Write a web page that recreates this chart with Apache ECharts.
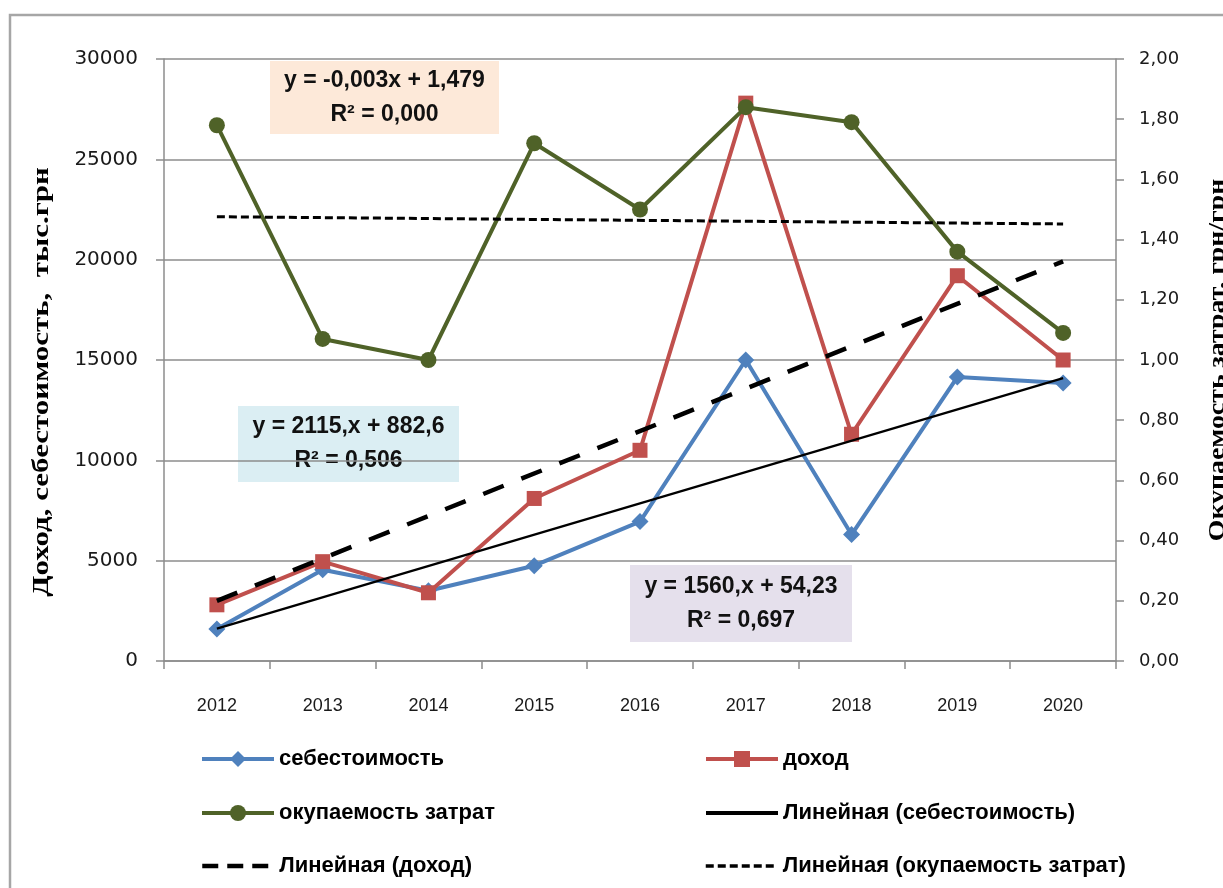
<!DOCTYPE html>
<html>
<head>
<meta charset="utf-8">
<script src="https://cdn.jsdelivr.net/npm/echarts@6/dist/echarts.min.js"></script>
<style>
html,body{margin:0;padding:0;background:#fff;}
#chart{width:1223px;height:888px;}
</style>
</head>
<body>
<div id="chart"></div>
<script>
// ---- data ----
const years = ['2012','2013','2014','2015','2016','2017','2018','2019','2020'];
const cost = [1600, 4550, 3500, 4750, 6950, 15000, 6300, 14150, 13850];      // себестоимость
const income = [2800, 4950, 3400, 8100, 10500, 27800, 11300, 19200, 15000];  // доход
const payback = [1.78, 1.07, 1.00, 1.72, 1.50, 1.84, 1.79, 1.36, 1.09];      // окупаемость затрат
const leftTicks = [0, 5000, 10000, 15000, 20000, 25000, 30000];
const rightTicks = ['0,00','0,20','0,40','0,60','0,80','1,00','1,20','1,40','1,60','1,80','2,00'];
// trendline coefficients as printed in the chart (x = 1..9)
const trendCost = {slope: 1560, intercept: 54.23, text: ['y = 1560,x + 54,23', 'R² = 0,697']};
const trendIncome = {slope: 2115, intercept: 882.6, text: ['y = 2115,x + 882,6', 'R² = 0,506']};
const trendPayback = {slope: -0.003, intercept: 1.479, text: ['y = -0,003x + 1,479', 'R² = 0,000']};
const names = ['себестоимость','доход','окупаемость затрат','Линейная (себестоимость)','Линейная (доход)','Линейная (окупаемость затрат)'];
const leftTitle = 'Доход, себестоимость,  тыс.грн';
const rightTitle = 'Окупаемость затрат, грн/грн';

function trendEnds(t){
  const n = years.length;
  return [[0, t.slope*1 + t.intercept], [n-1, t.slope*n + t.intercept]];
}

const chart = echarts.init(document.getElementById('chart'), null, {renderer:'canvas'});
const axisFont = "'DejaVu Sans', sans-serif";
const sansFont = "'Liberation Sans', Arial, sans-serif";
const txt = '#1a1a1a';
const gridGray = '#8c8c8c';

function noteBox(x, y, w, h, fill, lines){
  const f = "bold 23px 'Liberation Sans', Arial, sans-serif";
  return {
    type:'group', x:x, y:y, z:50,
    children:[
      {type:'rect', shape:{x:0,y:0,width:w,height:h}, style:{fill:fill}},
      {type:'text', x:w/2, y:h/2 - 17, style:{text:lines[0], fill:'#111', font:f, align:'center', verticalAlign:'middle'}},
      {type:'text', x:w/2, y:h/2 + 17, style:{text:lines[1], fill:'#111', font:f, align:'center', verticalAlign:'middle'}}
    ]
  };
}

const legendText = {color:'#000', fontSize:22, fontWeight:'bold', fontFamily:sansFont, lineHeight:20};
function oneLegend(name, left, top, lineStyle, hideSymbol){
  const item = {name:name, lineStyle:lineStyle};
  if (hideSymbol) item.itemStyle = {opacity:0};
  return {data:[item], orient:'horizontal', left:left, top:top, padding:0,
    itemWidth:72, itemHeight:20, itemGap:0, textStyle:legendText};
}

const option = {
  backgroundColor:'#fff',
  animation:false,
  grid:{left:164, right:107, top:59, bottom:227, containLabel:false},
  xAxis:{
    type:'category', data:years, boundaryGap:true,
    axisLine:{lineStyle:{color:gridGray, width:1.5}},
    axisTick:{show:true, inside:false, length:8, alignWithLabel:false, lineStyle:{color:gridGray, width:1.5}},
    axisLabel:{color:txt, fontSize:18, fontFamily:sansFont, margin:36}
  },
  yAxis:[
    {
      type:'value', min:0, max:30000, interval:5000, position:'left',
      axisLine:{show:true, lineStyle:{color:gridGray, width:1.5}},
      axisTick:{show:true, length:8, lineStyle:{color:gridGray, width:1.5}},
      splitLine:{show:true, lineStyle:{color:gridGray, width:1.5}},
      axisLabel:{color:txt, fontSize:20, fontFamily:axisFont, margin:26,
        formatter:function(v){ const i = leftTicks.indexOf(v); return i>=0 ? String(leftTicks[i]) : ''; }}
    },
    {
      type:'value', min:0, max:2, interval:0.2, position:'right',
      axisLine:{show:true, lineStyle:{color:gridGray, width:1.5}},
      axisTick:{show:true, length:8, lineStyle:{color:gridGray, width:1.5}},
      splitLine:{show:false},
      axisLabel:{color:txt, fontSize:18, fontFamily:axisFont, margin:23,
        formatter:function(v){ return rightTicks[Math.round(v/0.2)]; }}
    }
  ],
  legend:[
    oneLegend(names[0], 200, 748, {width:4}, false),
    oneLegend(names[2], 200, 802, {width:4}, false),
    oneLegend(names[4], 200, 855, {width:4.5, type:[16,9]}, true),
    oneLegend(names[1], 704, 748, {width:4}, false),
    oneLegend(names[3], 704, 802, {width:4}, true),
    oneLegend(names[5], 704, 855, {width:3.5}, true)
  ],
  series:[
    {name:names[0], type:'line', data:cost, yAxisIndex:0, z:3,
      symbol:'diamond', symbolSize:17, showSymbol:true,
      lineStyle:{color:'#4F81BD', width:4}, itemStyle:{color:'#4F81BD'}},
    {name:names[1], type:'line', data:income, yAxisIndex:0, z:4,
      symbol:'rect', symbolSize:15,
      lineStyle:{color:'#C0504D', width:4}, itemStyle:{color:'#C0504D'}},
    {name:names[2], type:'line', data:payback, yAxisIndex:1, z:5,
      symbol:'circle', symbolSize:16,
      lineStyle:{color:'#4F6228', width:4}, itemStyle:{color:'#4F6228'}},
    {name:names[3], type:'line', data:trendEnds(trendCost), yAxisIndex:0, z:6,
      symbol:'none', lineStyle:{color:'#000', width:2.2}, itemStyle:{color:'#000'}},
    {name:names[4], type:'line', data:trendEnds(trendIncome), yAxisIndex:0, z:6,
      symbol:'none', lineStyle:{color:'#000', width:4.5, type:[22,19], cap:'butt'}, itemStyle:{color:'#000'}},
    {name:names[5], type:'line', data:trendEnds(trendPayback), yAxisIndex:1, z:6,
      symbol:'none', lineStyle:{color:'#000', width:3, type:[8,4], cap:'butt'}, itemStyle:{color:'#000'}}
  ],
  graphic:[
    {type:'rect', z:0, silent:true, shape:{x:10, y:15, width:1260, height:900}, style:{fill:'none', stroke:'#a6a6a6', lineWidth:2.5}},
    noteBox(270, 61, 229, 73, '#FDE9D9', trendPayback.text),
    noteBox(238, 406, 221, 76, '#DBEEF3', trendIncome.text),
    noteBox(630, 565, 222, 77, '#E5E0EC', trendCost.text),
    {type:'text', x:42, y:382, rotation:Math.PI/2, scaleX:1.29, z:50,
      style:{text:leftTitle, fill:'#000', font:"bold 24px 'Liberation Serif', serif", align:'center', verticalAlign:'middle'}},
    {type:'text', x:1218, y:360, rotation:Math.PI/2, scaleX:1.16, z:50,
      style:{text:rightTitle, fill:'#000', font:"bold 24px 'Liberation Serif', serif", align:'center', verticalAlign:'middle'}}
  ]
};
chart.setOption(option);
</script>
</body>
</html>
